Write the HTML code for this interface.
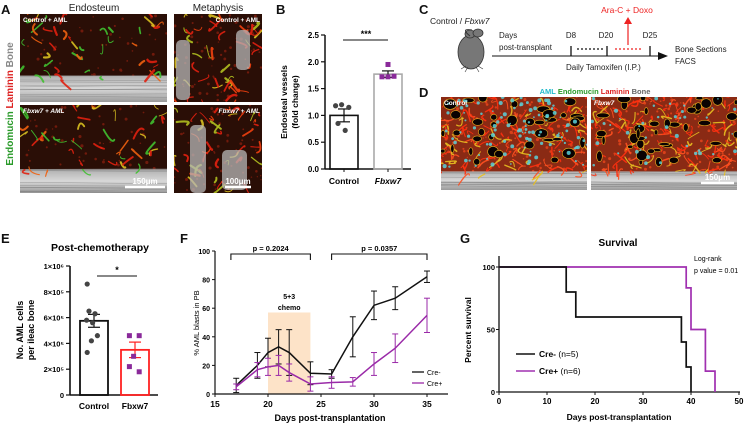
<!DOCTYPE html>
<html><head><meta charset="utf-8"><style>
body{margin:0;background:#fff;font-family:"Liberation Sans",Arial,sans-serif}
svg{display:block}
text{font-family:"Liberation Sans",Arial,sans-serif}
</style></head><body>
<svg id="fig" width="756" height="427" viewBox="0 0 756 427" xmlns="http://www.w3.org/2000/svg">
<defs>
<linearGradient id="bone" x1="0" y1="0" x2="0" y2="1"><stop offset="0" stop-color="#b0b0b0"/><stop offset="0.5" stop-color="#d8d8d8"/><stop offset="1" stop-color="#9a9a9a"/></linearGradient>
</defs>
<g font-weight="bold" font-size="13" fill="#111">
<text x="1" y="14">A</text>
<text x="276" y="14">B</text>
<text x="419" y="14">C</text>
<text x="419" y="97">D</text>
<text x="1" y="243">E</text>
<text x="180" y="243">F</text>
<text x="460" y="243">G</text>
</g>
<g>
<text x="94" y="11" font-size="10" text-anchor="middle" fill="#222">Endosteum</text>
<text x="218" y="11" font-size="10" text-anchor="middle" fill="#222">Metaphysis</text>
<text transform="translate(13,104) rotate(-90)" font-size="10" font-weight="bold" text-anchor="middle"><tspan fill="#2a9a2a">Endomucin </tspan><tspan fill="#d22">Laminin </tspan><tspan fill="#888">Bone</tspan></text>
<g id="imgs"></g>
</g>
<g id="pb"></g>
<g>
<text x="430" y="24" font-size="8.5" fill="#222">Control / <tspan font-style="italic">Fbxw7</tspan></text>
<g>
<ellipse cx="471" cy="52" rx="13" ry="17" fill="#777" stroke="#333" stroke-width="0.8"/>
<ellipse cx="470" cy="34" rx="5" ry="4" fill="#777" stroke="#333" stroke-width="0.8"/>
<ellipse cx="478" cy="33" rx="5" ry="4" fill="#777" stroke="#333" stroke-width="0.8"/>
<path d="M470,36 Q460,28 472,30" stroke="#333" fill="none" stroke-width="1"/>
<path d="M466,66 l-5,3 M468,67 l-3,5 M476,67 l3,5 M478,66 l5,3" stroke="#333" stroke-width="0.6"/>
</g>
<text x="499" y="38" font-size="8" fill="#222">Days</text>
<text x="499" y="50" font-size="8" fill="#222">post-transplant</text>
<line x1="492" y1="56" x2="660" y2="56" stroke="#111" stroke-width="1"/>
<polygon points="668,56 658,52 658,60" fill="#111"/>
<line x1="571" y1="46" x2="571" y2="56" stroke="#111" stroke-width="1.3"/>
<line x1="607" y1="46" x2="607" y2="56" stroke="#111" stroke-width="1.3"/>
<line x1="650" y1="46" x2="650" y2="56" stroke="#111" stroke-width="1.3"/>
<line x1="577" y1="49" x2="603" y2="49" stroke="#111" stroke-width="1.3" stroke-dasharray="2,2"/>
<line x1="615" y1="49" x2="641" y2="49" stroke="#e22" stroke-width="1.3" stroke-dasharray="2,2"/>
<text x="571" y="38" font-size="8" text-anchor="middle" fill="#222">D8</text>
<text x="606" y="38" font-size="8" text-anchor="middle" fill="#222">D20</text>
<text x="650" y="38" font-size="8" text-anchor="middle" fill="#222">D25</text>
<line x1="628" y1="45" x2="628" y2="22" stroke="#e22" stroke-width="1.2"/>
<polygon points="628,17 624,24 632,24" fill="#e22"/>
<text x="627" y="13" font-size="8.5" text-anchor="middle" fill="#e22">Ara-C + Doxo</text>
<text x="566" y="70" font-size="8" fill="#222">Daily Tamoxifen (I.P.)</text>
<text x="675" y="52" font-size="8" fill="#222">Bone Sections</text>
<text x="675" y="64" font-size="8" fill="#222">FACS</text>
</g>
<text x="595" y="94" font-size="7.5" font-weight="bold" text-anchor="middle"><tspan fill="#2bc">AML </tspan><tspan fill="#2a9a2a">Endomucin </tspan><tspan fill="#d22">Laminin </tspan><tspan fill="#666">Bone</tspan></text>
<g id="pe"></g>
<g id="pf"></g>
<g id="pg"></g>
</svg>
<script>
// ===== Panel B data =====
const bCategories=["Control","Fbxw7"];
const bMeans=[1.0,1.77];
const bSem=[0.12,0.06];
const bPointsCtrl=[1.18,1.2,1.15,0.85,0.72];
const bPointsFb=[1.95,1.72,1.72,1.73];
const bTicks=[0,0.5,1.0,1.5,2.0,2.5];
// ===== Panel E data =====
const eCategories=["Control","Fbxw7"];
const eMeans=[5.75e5,3.5e5];
const eSem=[0.5e5,0.6e5];
const ePointsCtrl=[8.6e5,6.5e5,6.3e5,5.8e5,5.6e5,4.6e5,4.2e5,3.3e5];
const ePointsFb=[4.6e5,4.6e5,3.0e5,2.2e5,1.8e5];
const eTicks=[0,2e5,4e5,6e5,8e5,1e6];
const eTickLabels=["0","2×10⁵","4×10⁵","6×10⁵","8×10⁵","1×10⁶"];
// ===== Panel F data =====
const fDays=[17,19,20,21,22,24,26,28,30,32,35];
const fCreMinus=[6,20,29,33,29,14.5,14,40,62,67,82];
const fCreMinusErr=[5,9,10,12,16,8,3,14,10,8,4];
const fCrePlus=[5,17,19,20,15,7,8,8.5,21,32,55];
const fCrePlusErr=[2,5,6,7,6,5,4,3,8,10,12];
const fXTicks=[15,20,25,30,35];
const fYTicks=[0,20,40,60,80,100];
// ===== Panel G data =====
const gMinusT=[0,14,16,38,39,40];
const gMinusS=[100,80,60,40,20,0];
const gPlusT=[0,39,40,43,45];
const gPlusS=[100,83.3,50,16.7,0];
const gXTicks=[0,10,20,30,40,50];
const gYTicks=[0,50,100];

const NS="http://www.w3.org/2000/svg";
function mk(parent,tag,attrs,txt){const e=document.createElementNS(NS,tag);for(const k in attrs)e.setAttribute(k,attrs[k]);if(txt!==undefined)e.textContent=txt;parent.appendChild(e);return e;}

let seed=7;function rnd(){seed=(seed*16807)%2147483647;return seed/2147483647;}
function micro(x,y,w,h,boneFrac,label,italic,dense,cyan,greenish){
  const g=mk(document.getElementById('imgs'),'g',{});
  
  
  mk(g,'rect',{x:x,y:y,width:w,height:h,fill:dense?'#8a2a14':'#2a0e06'});
  const cp='c'+Math.floor(rnd()*1e6);
  const c=mk(g,'clipPath',{id:cp});mk(c,'rect',{x:x,y:y,width:w,height:h});
  const inner=mk(g,'g',{'clip-path':'url(#'+cp+')'});
  // speckle
  for(let i=0;i<(dense?120:60);i++){mk(inner,'circle',{cx:x+rnd()*w,cy:y+rnd()*h,r:0.6+rnd(),fill:dense?'#d8401a':'#701a0c'});}
  if(boneFrac>0){
    mk(inner,'rect',{x:x,y:y+h*(1-boneFrac),width:w,height:h*boneFrac,fill:'url(#bone)'});
    for(let i=0;i<10;i++){const yy=y+h*(1-boneFrac)+rnd()*h*boneFrac;mk(inner,'line',{x1:x,y1:yy,x2:x+w,y2:yy+(rnd()-0.5)*4,stroke:'#777','stroke-width':0.5,opacity:0.6});}
  }
  const n=dense?160:45;
  const cols=greenish?['#e02010','#d8c020','#40c030','#40c030','#f06010']:['#e02010','#e02010','#d8c020','#b0c020','#f04010'];
  for(let i=0;i<n;i++){
    const px=x+rnd()*w,py=y+rnd()*h*(1-boneFrac*0.8);
    const col=dense?['#ff3010','#e8c020','#ff5020','#ff3010'][Math.floor(rnd()*4)]:cols[Math.floor(rnd()*cols.length)];
    mk(inner,'path',{d:`M${px},${py} q${(rnd()-0.5)*14},${(rnd()-0.5)*14} ${(rnd()-0.5)*22},${(rnd()-0.5)*22}`,stroke:col,'stroke-width':dense?0.8+rnd()*0.8:0.8+rnd()*1.6,fill:'none','stroke-linecap':'round',opacity:0.9});
  }
  if(dense){for(let i=0;i<40;i++){mk(inner,'ellipse',{cx:x+rnd()*w,cy:y+rnd()*h*0.72,rx:1.5+rnd()*5,ry:1.5+rnd()*4,fill:'#0a0202',stroke:'#e8b020','stroke-width':0.6});}}
  if(cyan){for(let i=0;i<cyan;i++){mk(inner,'circle',{cx:x+rnd()*w,cy:y+rnd()*h*0.75,r:0.8+rnd()*1.3,fill:'#5ad0d8',opacity:0.85});}}
  if(label){mk(g,'text',{x:x+3,y:y+8,'font-size':6.5,'font-weight':'bold',fill:'#fff','font-style':italic?'italic':'normal'},label);}
  return g;
}
micro(20,14,147,88,0.3,'Control + AML',false,false,0,true);
micro(20,105,147,88,0.27,'Fbxw7 + AML',true,false,0,true);
micro(174,14,88,88,0.0,'');
micro(174,105,88,88,0.0,'');
const ig=document.getElementById('imgs');
// grey bone columns in metaphysis
[[176,40,14,60],[236,30,14,40],[190,125,16,68],[222,150,25,40]].forEach(r=>mk(ig,'rect',{x:r[0],y:r[1],width:r[2],height:r[3],rx:5,fill:'#b8b8b8',opacity:0.75}));
mk(ig,'text',{x:260,y:22,'font-size':6.5,'font-weight':'bold',fill:'#fff','text-anchor':'end'},'Control + AML');
mk(ig,'text',{x:260,y:113,'font-size':6.5,'font-weight':'bold',fill:'#fff','text-anchor':'end','font-style':'italic'},'Fbxw7 + AML');
micro(441,97,146,93,0.2,'Control',false,true,110);
micro(591,97,146,93,0.2,'Fbxw7',true,true,40);
[[125,186,40,'150μm'],[225,186,26,'100μm'],[701,182,33,'150μm']].forEach(s=>{
  mk(ig,'line',{x1:s[0],y1:s[1]+1,x2:s[0]+s[2],y2:s[1]+1,stroke:'#fff','stroke-width':2.5});
  mk(ig,'text',{x:s[0]+s[2]/2,y:s[1]-2,'font-size':8,'font-weight':'bold',fill:'#fff','text-anchor':'middle'},s[3]);
});

(function(){
  const g=document.getElementById('pb');
  const X0=325,Y0=169,Y1=35;const y=v=>Y0-(v/2.5)*(Y0-Y1);
  const cx=[344,388];
  mk(g,'line',{x1:X0,y1:Y1,x2:X0,y2:Y0,stroke:'#111','stroke-width':1.5});
  mk(g,'line',{x1:X0,y1:Y0,x2:411,y2:Y0,stroke:'#111','stroke-width':1.5});
  bTicks.forEach(t=>{mk(g,'line',{x1:X0-4,y1:y(t),x2:X0,y2:y(t),stroke:'#111','stroke-width':1.2});
    mk(g,'text',{x:X0-6,y:y(t)+3,'font-size':8,'font-weight':'bold','text-anchor':'end'},t.toFixed(1));});
  bMeans.forEach((m,i)=>{
    const r=mk(g,'rect',{x:cx[i]-14,y:y(m),width:28,height:Y0-y(m),fill:'none',stroke:i?'#aaa':'#111','stroke-width':1.6});
    
    
    mk(g,'line',{x1:cx[i],y1:y(m-bSem[i]),x2:cx[i],y2:y(m+bSem[i]),stroke:'#111','stroke-width':1.2});
    [m-bSem[i],m+bSem[i]].forEach(v=>mk(g,'line',{x1:cx[i]-6,y1:y(v),x2:cx[i]+6,y2:y(v),stroke:'#111','stroke-width':1.2}));
    mk(g,'line',{x1:cx[i],y1:Y0,x2:cx[i],y2:Y0+3,stroke:'#111'});
    mk(g,'text',{x:cx[i],y:184,'font-size':8.5,'font-weight':'bold','text-anchor':'middle','font-style':i?'italic':'normal'},bCategories[i]);
  });
  const off=[-7,-2,4,-5,1];
  bPointsCtrl.forEach((v,i)=>mk(g,'circle',{cx:cx[0]+off[i]*1.2,cy:y(v),r:2.6,fill:'#444'}));
  const offF=[0,-6,0,6];
  bPointsFb.forEach((v,i)=>mk(g,'rect',{x:cx[1]+offF[i]-2.5,y:y(v)-2.5,width:5,height:5,fill:'#8a2a9a'}));
  mk(g,'line',{x1:343,y1:40,x2:388,y2:40,stroke:'#111','stroke-width':1});
  mk(g,'text',{x:366,y:37,'font-size':9,'font-weight':'bold','text-anchor':'middle'},'***');
  mk(g,'text',{transform:'translate(287,102) rotate(-90)','font-size':8.5,'font-weight':'bold','text-anchor':'middle'},'Endosteal vessels');
  mk(g,'text',{transform:'translate(298,102) rotate(-90)','font-size':8.5,'font-weight':'bold','text-anchor':'middle'},'(fold change)');
})();

(function(){
  const g=document.getElementById('pe');
  const X0=70,Y0=395,Y1=266;const y=v=>Y0-(v/1e6)*(Y0-Y1);
  const cx=[94,135];
  mk(g,'text',{x:100,y:251,'font-size':10.5,'font-weight':'bold','text-anchor':'middle'},'Post-chemotherapy');
  mk(g,'line',{x1:X0,y1:Y1,x2:X0,y2:Y0,stroke:'#111','stroke-width':1.6});
  mk(g,'line',{x1:X0,y1:Y0,x2:158,y2:Y0,stroke:'#111','stroke-width':1.6});
  eTicks.forEach((t,i)=>{mk(g,'line',{x1:X0-4,y1:y(t),x2:X0,y2:y(t),stroke:'#111','stroke-width':1.2});
    mk(g,'text',{x:X0-6,y:y(t)+3,'font-size':7.5,'font-weight':'bold','text-anchor':'end'},eTickLabels[i]);});
  eMeans.forEach((m,i)=>{
    const r=mk(g,'rect',{x:cx[i]-14,y:y(m),width:28,height:Y0-y(m),fill:'none',stroke:i?'#f22':'#111','stroke-width':1.8});
    
    
    mk(g,'line',{x1:cx[i],y1:y(m-eSem[i]),x2:cx[i],y2:y(m+eSem[i]),stroke:i?'#f22':'#111','stroke-width':1.2});
    [m-eSem[i],m+eSem[i]].forEach(v=>mk(g,'line',{x1:cx[i]-6,y1:y(v),x2:cx[i]+6,y2:y(v),stroke:i?'#f22':'#111','stroke-width':1.2}));
    mk(g,'text',{x:cx[i],y:409,'font-size':8.5,'font-weight':'bold','text-anchor':'middle'},eCategories[i]);
  });
  const off=[-8,-5,5,-9,1,9,-1,-8];
  ePointsCtrl.forEach((v,i)=>mk(g,'circle',{cx:cx[0]+off[i]*0.6-2,cy:y(v),r:2.6,fill:'#444'}));
  const offF=[-8,6,-2,-8,6];
  ePointsFb.forEach((v,i)=>mk(g,'rect',{x:cx[1]+offF[i]*0.7-2.5,y:y(v)-2.5,width:5,height:5,fill:'#8a2a9a'}));
  mk(g,'line',{x1:97,y1:276,x2:137,y2:276,stroke:'#111','stroke-width':1});
  mk(g,'text',{x:117,y:273,'font-size':9,'font-weight':'bold','text-anchor':'middle'},'*');
  mk(g,'text',{transform:'translate(23,330) rotate(-90)','font-size':9,'font-weight':'bold','text-anchor':'middle'},'No. AML cells');
  mk(g,'text',{transform:'translate(34,330) rotate(-90)','font-size':9,'font-weight':'bold','text-anchor':'middle'},'per ileac bone');
})();

(function(){
  const g=document.getElementById('pf');
  const X0=215,Y0=394,Y1=251;
  const x=d=>X0+(d-15)*10.6, y=v=>Y0-v/100*(Y0-Y1);
  mk(g,'rect',{x:x(20),y:y(57),width:x(24)-x(20),height:Y0-y(57),fill:'#fde3c8'});
  mk(g,'text',{x:x(22),y:299,'font-size':7,'font-weight':'bold','text-anchor':'middle'},'5+3');
  mk(g,'text',{x:x(22),y:310,'font-size':7,'font-weight':'bold','text-anchor':'middle'},'chemo');
  mk(g,'line',{x1:X0,y1:Y1,x2:X0,y2:Y0,stroke:'#111','stroke-width':1.2});
  mk(g,'line',{x1:X0,y1:Y0,x2:448,y2:Y0,stroke:'#111','stroke-width':1.2});
  fYTicks.forEach(t=>{mk(g,'line',{x1:X0-3,y1:y(t),x2:X0,y2:y(t),stroke:'#111'});
    mk(g,'text',{x:X0-5,y:y(t)+3,'font-size':7,'font-weight':'bold','text-anchor':'end'},t);});
  fXTicks.forEach(t=>{mk(g,'line',{x1:x(t),y1:Y0,x2:x(t),y2:Y0+3,stroke:'#111'});
    mk(g,'text',{x:x(t),y:Y0+13,'font-size':8.5,'font-weight':'bold','text-anchor':'middle'},t);});
  function series(vals,errs,col,name){
    const l=mk(g,'polyline',{points:fDays.map((d,i)=>x(d)+','+y(vals[i])).join(' '),fill:'none',stroke:col,'stroke-width':1.5});
    
    
    fDays.forEach((d,i)=>{
      mk(g,'line',{x1:x(d),y1:y(vals[i]-errs[i]),x2:x(d),y2:y(vals[i]+errs[i]),stroke:col,'stroke-width':1});
      [vals[i]-errs[i],vals[i]+errs[i]].forEach(v=>mk(g,'line',{x1:x(d)-3,y1:y(v),x2:x(d)+3,y2:y(v),stroke:col,'stroke-width':1}));
    });
  }
  series(fCreMinus,fCreMinusErr,'#111','cre-minus');
  series(fCrePlus,fCrePlusErr,'#9a2aa8','cre-plus');
  [[16.5,24,'p = 0.2024'],[26,35,'p = 0.0357']].forEach(b=>{
    mk(g,'polyline',{points:`${x(b[0])},${Y1+9} ${x(b[0])},${Y1+3} ${x(b[1])},${Y1+3} ${x(b[1])},${Y1+9}`,fill:'none',stroke:'#111','stroke-width':1.1});
    mk(g,'text',{x:(x(b[0])+x(b[1]))/2,y:Y1,'font-size':7.5,'font-weight':'bold','text-anchor':'middle'},b[2]);
  });
  mk(g,'line',{x1:412,y1:372,x2:424,y2:372,stroke:'#111','stroke-width':1.3});
  mk(g,'text',{x:427,y:375,'font-size':7},'Cre-');
  mk(g,'line',{x1:412,y1:383,x2:424,y2:383,stroke:'#9a2aa8','stroke-width':1.3});
  mk(g,'text',{x:427,y:386,'font-size':7},'Cre+');
  mk(g,'text',{transform:'translate(199,323) rotate(-90)','font-size':7.5,'text-anchor':'middle'},'% AML blasts in PB');
  mk(g,'text',{x:330,y:421,'font-size':9,'font-weight':'bold','text-anchor':'middle'},'Days post-transplantation');
})();

(function(){
  const g=document.getElementById('pg');
  const X0=499,Y0=392,Y1=267;
  const x=d=>X0+d*4.8, y=v=>Y0-v/100*(Y0-Y1);
  mk(g,'text',{x:618,y:246,'font-size':10,'font-weight':'bold','text-anchor':'middle'},'Survival');
  mk(g,'text',{x:694,y:261,'font-size':7},'Log-rank');
  mk(g,'text',{x:694,y:273,'font-size':7},'p value = 0.01');
  mk(g,'line',{x1:X0,y1:256,x2:X0,y2:Y0,stroke:'#111','stroke-width':1.3});
  mk(g,'line',{x1:X0,y1:Y0,x2:740,y2:Y0,stroke:'#111','stroke-width':1.3});
  gYTicks.forEach(t=>{mk(g,'line',{x1:X0-3,y1:y(t),x2:X0,y2:y(t),stroke:'#111'});
    mk(g,'text',{x:X0-4,y:y(t)+3,'font-size':7.5,'font-weight':'bold','text-anchor':'end'},t);});
  gXTicks.forEach(t=>{mk(g,'line',{x1:x(t),y1:Y0,x2:x(t),y2:Y0+3,stroke:'#111'});
    mk(g,'text',{x:x(t),y:Y0+12,'font-size':8,'font-weight':'bold','text-anchor':'middle'},t);});
  function km(T,S,col,name){
    let p=`${x(T[0])},${y(S[0])}`;
    for(let i=1;i<T.length;i++){p+=` ${x(T[i])},${y(S[i-1])} ${x(T[i])},${y(S[i])}`;}
    const l=mk(g,'polyline',{points:p,fill:'none',stroke:col,'stroke-width':1.7});
    
    
  }
  km(gPlusT,gPlusS,'#a030b0','cre-plus');
  km(gMinusT,gMinusS,'#111','cre-minus');
  mk(g,'line',{x1:516,y1:354,x2:535,y2:354,stroke:'#111','stroke-width':1.5});
  mk(g,'text',{x:539,y:357,'font-size':8.5},'').innerHTML='<tspan font-weight="bold">Cre-</tspan> (n=5)';
  mk(g,'line',{x1:516,y1:371,x2:535,y2:371,stroke:'#a030b0','stroke-width':1.5});
  mk(g,'text',{x:539,y:374,'font-size':8.5},'').innerHTML='<tspan font-weight="bold">Cre+</tspan> (n=6)';
  mk(g,'text',{transform:'translate(471,330) rotate(-90)','font-size':8.5,'font-weight':'bold','text-anchor':'middle'},'Percent survival');
  mk(g,'text',{x:619,y:420,'font-size':8.5,'font-weight':'bold','text-anchor':'middle'},'Days post-transplantation');
})();
</script>
</body></html>
